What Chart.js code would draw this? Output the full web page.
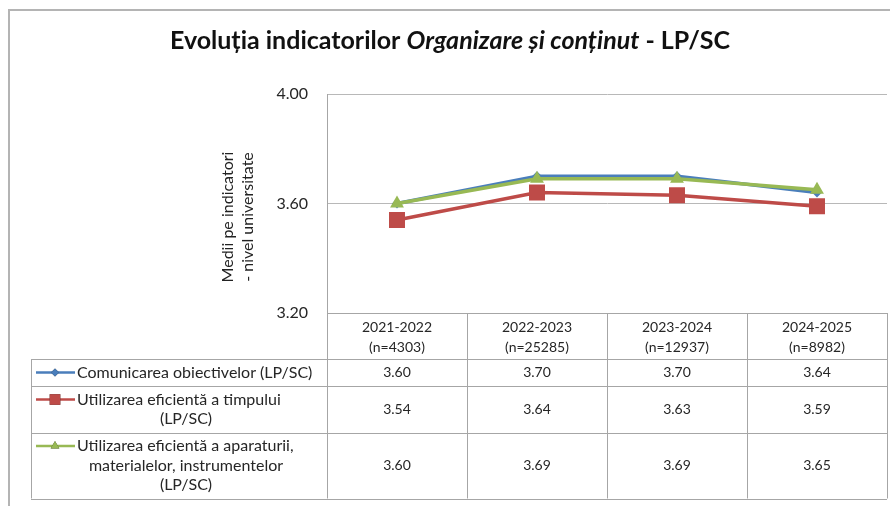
<!DOCTYPE html>
<html>
<head>
<meta charset="utf-8">
<script src="https://cdn.jsdelivr.net/npm/chart.js@4"></script>
<style>
  html, body { margin: 0; padding: 0; background: #fff; }
  #wrap { width: 890px; height: 506px; }
</style>
</head>
<body>
<div id="wrap"><canvas id="myChart" width="890" height="506"></canvas></div>
<script>
const categories = ['2021-2022', '2022-2023', '2023-2024', '2024-2025'];
const sampleSizes = [4303, 25285, 12937, 8982];

const comunicareObiective = [3.60, 3.70, 3.70, 3.64];
const utilizareTimp = [3.54, 3.64, 3.63, 3.59];
const utilizareAparatura = [3.60, 3.69, 3.69, 3.65];

const yTicks = [3.20, 3.60, 4.00];

// legend text as it wraps inside the data table
const labelComunicare = ['Comunicarea obiectivelor (LP/SC)'];
const labelTimp = ['Utilizarea eficientă a timpului', '(LP/SC)'];
const labelAparatura = ['Utilizarea eficientă a aparaturii,', 'materialelor, instrumentelor', '(LP/SC)'];

const FONT = 'Lato, "Open Sans", sans-serif';
const TEXT = '#262626';
const LINE_GRAY = '#a6a6a6';

const data = {
  labels: categories,
  datasets: [{
    label: labelComunicare.join(' '),
    wrapped: labelComunicare,
    data: comunicareObiective,
    borderColor: '#4a7ebb',
    backgroundColor: '#4a7ebb',
    pointStyle: 'rectRot',
    pointRadius: 5,
    legendSize: 4,
    order: 3
  }, {
    label: labelTimp.join(' '),
    wrapped: labelTimp,
    data: utilizareTimp,
    borderColor: '#be4b48',
    backgroundColor: '#be4b48',
    pointStyle: 'rect',
    pointRadius: 11.3,
    legendSize: 7.5,
    order: 2
  }, {
    label: labelAparatura.join(' '),
    wrapped: labelAparatura,
    data: utilizareAparatura,
    borderColor: '#98b954',
    backgroundColor: '#98b954',
    pointStyle: 'triangle',
    pointRadius: 8,
    legendSize: 5,
    order: 1
  }]
};

// title, vertical axis caption, outer frame and the data table under the plot
const extras = {
  id: 'extras',
  afterDraw(chart) {
    const ctx = chart.ctx;
    const area = chart.chartArea;
    const x = chart.scales.x;
    ctx.save();

    // frame
    ctx.strokeStyle = '#b4b4b4';
    ctx.lineWidth = 2;
    ctx.strokeRect(9, 10, 900, 520);

    // title with the italic middle part
    const parts = [
      ['Evoluția indicatorilor ', ''],
      ['Organizare și conținut', 'italic '],
      [' - LP/SC', '']
    ];
    let total = 0;
    parts.forEach(p => { ctx.font = p[1] + 'bold 25px ' + FONT; total += ctx.measureText(p[0]).width; });
    let tx = 450 - total / 2;
    ctx.fillStyle = '#111';
    ctx.textBaseline = 'alphabetic';
    ctx.textAlign = 'left';
    parts.forEach(p => {
      ctx.font = p[1] + 'bold 25px ' + FONT;
      ctx.fillText(p[0], tx, 49);
      tx += ctx.measureText(p[0]).width;
    });
    ctx.textBaseline = 'middle';

    // axis caption
    ctx.save();
    ctx.translate(238, 217);
    ctx.rotate(-Math.PI / 2);
    ctx.textAlign = 'center';
    ctx.font = '16px ' + FONT;
    ctx.fillStyle = '#222';
    ctx.fillText('Medii pe indicatori', 0, -10);
    ctx.fillText('- nivel universitate', 0, 10);
    ctx.restore();

    // data table
    const top = area.bottom;
    const headH = 46;
    const lh = 19.5;
    const legendLeft = 31;
    const left = area.left;
    const right = area.right;
    const n = categories.length;
    const bands = [];
    for (let i = 0; i <= n; i++) bands.push(left + (right - left) * i / n);

    const rows = chart.data.datasets.map(ds => 7.5 + lh * ds.wrapped.length);
    let bottom = top + headH;
    rows.forEach(h => { bottom += h; });

    ctx.strokeStyle = LINE_GRAY;
    ctx.lineWidth = 1;
    ctx.beginPath();
    ctx.moveTo(left, top + 0.5); ctx.lineTo(right, top + 0.5);
    bands.forEach(b => { ctx.moveTo(Math.round(b) + 0.5, top); ctx.lineTo(Math.round(b) + 0.5, bottom); });
    ctx.moveTo(legendLeft + 0.5, top + headH); ctx.lineTo(legendLeft + 0.5, bottom);
    let y = top + headH;
    ctx.moveTo(legendLeft, y + 0.5); ctx.lineTo(right, y + 0.5);
    rows.forEach(h => { y += h; ctx.moveTo(legendLeft, Math.round(y) + 0.5); ctx.lineTo(right, Math.round(y) + 0.5); });
    ctx.stroke();

    ctx.fillStyle = TEXT;
    ctx.textAlign = 'center';
    ctx.font = '14px ' + FONT;
    categories.forEach((c, i) => {
      const cx = x.getPixelForValue(i);
      ctx.fillText(c, cx, top + 14);
      ctx.fillText('(n=' + sampleSizes[i] + ')', cx, top + 34);
    });

    y = top + headH;
    chart.data.datasets.forEach((ds, r) => {
      const mid = y + rows[r] / 2;
      ctx.font = '14px ' + FONT;
      ctx.textAlign = 'center';
      ctx.fillStyle = TEXT;
      ds.data.forEach((v, i) => ctx.fillText(v.toFixed(2), x.getPixelForValue(i), mid));

      const first = mid - lh * (ds.wrapped.length - 1) / 2;
      // legend key
      ctx.strokeStyle = ds.borderColor;
      ctx.lineWidth = 2.5;
      ctx.beginPath();
      ctx.moveTo(36, first); ctx.lineTo(75, first);
      ctx.stroke();
      Chart.helpers.drawPoint(ctx, { pointStyle: ds.pointStyle, radius: ds.legendSize, borderWidth: 0 }, 55, first);
      ctx.fillStyle = ds.borderColor;
      ctx.fill();

      ctx.fillStyle = TEXT;
      ctx.font = '16px ' + FONT;
      ds.wrapped.forEach((t, k) => {
        if (k === 0) {
          ctx.textAlign = 'left';
          ctx.fillText(t, 77, first);
        } else {
          ctx.textAlign = 'center';
          ctx.fillText(t, 186, first + lh * k);
        }
      });
      y += rows[r];
    });

    ctx.restore();
  }
};

const config = {
  type: 'line',
  data,
  options: {
    responsive: false,
    animation: false,
    layout: { autoPadding: false, padding: { left: 0, top: 94, right: 3, bottom: 193 } },
    elements: {
      line: { borderWidth: 3.5, tension: 0 },
      point: { borderWidth: 0, hoverRadius: 8 }
    },
    plugins: {
      legend: { display: false },
      title: { display: false },
      tooltip: { enabled: false }
    },
    scales: {
      x: {
        display: false,
        offset: true
      },
      y: {
        min: 3.2,
        max: 4.0,
        afterFit(scale) { scale.width = 327; },
        afterBuildTicks(scale) { scale.ticks = yTicks.map(v => ({ value: v })); },
        ticks: {
          padding: 19,
          color: TEXT,
          font: { family: FONT, size: 16 },
          callback: v => Number(v).toFixed(2)
        },
        grid: { color: '#b8b8b8', drawTicks: false },
        border: { color: LINE_GRAY }
      }
    }
  },
  plugins: [extras]
};

const myChart = new Chart(document.getElementById('myChart'), config);
</script>
</body>
</html>
